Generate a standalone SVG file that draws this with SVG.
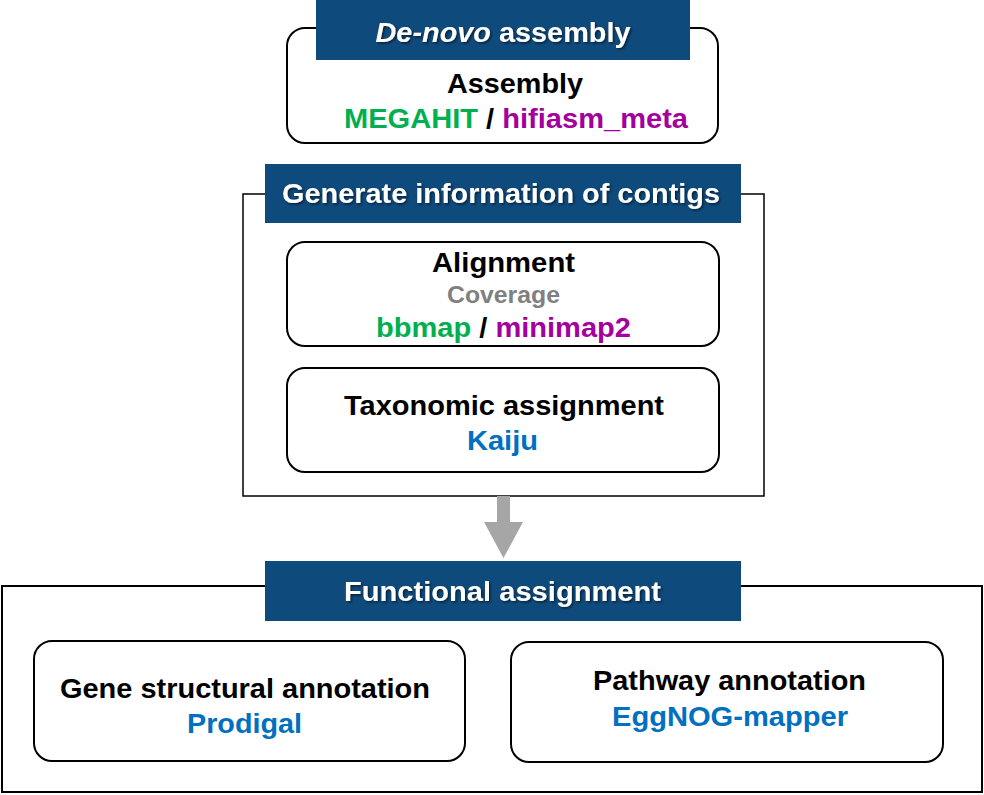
<svg xmlns="http://www.w3.org/2000/svg" width="984" height="795" viewBox="0 0 984 795">
<defs>
<filter id="shadow" x="-10%" y="-30%" width="120%" height="160%">
<feDropShadow dx="1.5" dy="1.5" stdDeviation="0.8" flood-color="#000" flood-opacity="0.55"/>
</filter>
</defs>
<style>
text{font-family:"Liberation Sans",Arial,sans-serif;font-weight:bold;font-size:28px;text-anchor:middle}
.hdr{fill:#0F4A7C}
.htxt{fill:#fff;filter:url(#shadow)}
.box{fill:#fff;stroke:#000;stroke-width:2}
.frame{fill:#fff;stroke:#000;stroke-width:1.5}
.blk{fill:#000}
.grn{fill:#00B050}
.pur{fill:#A3009E}
.blu{fill:#0070C0}
.gry{fill:#808080;font-size:24px}
.arrow{fill:#A6A6A6}
</style>
<rect width="984" height="795" fill="#fff"/>

<g id="denovo">
<rect class="box" x="287" y="28" width="431" height="115" rx="18"/>
<rect class="hdr" x="316" y="0" width="374" height="60"/>
<text class="htxt" x="503" y="42" textLength="255" lengthAdjust="spacingAndGlyphs"><tspan font-style="italic">De-novo</tspan> assembly</text>
<text class="blk" x="515" y="93" textLength="136" lengthAdjust="spacingAndGlyphs">Assembly</text>
<text x="516" y="128" textLength="344" lengthAdjust="spacingAndGlyphs"><tspan class="grn">MEGAHIT</tspan><tspan class="blk"> / </tspan><tspan class="pur">hifiasm_meta</tspan></text>
</g>

<g id="contigs">
<rect class="frame" x="243" y="194" width="521" height="302"/>
<rect class="hdr" x="265" y="164" width="476" height="59"/>
<text class="htxt" x="501" y="203" textLength="438" lengthAdjust="spacingAndGlyphs">Generate information of contigs</text>
</g>

<g id="alignment">
<rect class="box" x="287" y="242" width="432" height="104" rx="18"/>
<text class="blk" x="503.5" y="272" textLength="143" lengthAdjust="spacingAndGlyphs">Alignment</text>
<text class="gry" x="503.5" y="303" textLength="113" lengthAdjust="spacingAndGlyphs">Coverage</text>
<text x="503.5" y="337" textLength="255" lengthAdjust="spacingAndGlyphs"><tspan class="grn">bbmap</tspan><tspan class="blk"> / </tspan><tspan class="pur">minimap2</tspan></text>
</g>

<g id="taxonomy">
<rect class="box" x="287" y="368" width="432" height="104" rx="18"/>
<text class="blk" x="504" y="415" textLength="320" lengthAdjust="spacingAndGlyphs">Taxonomic assignment</text>
<text class="blu" x="502.5" y="450" textLength="71" lengthAdjust="spacingAndGlyphs">Kaiju</text>
</g>

<g id="connectors">
<polygon class="arrow" points="497,496 510,496 510,522 523,522 503.5,558 484,522 497,522"/>
</g>

<g id="functional">
<rect class="box" x="2" y="586" width="980" height="206"/>
<rect class="hdr" x="265" y="561" width="476" height="60"/>
<text class="htxt" x="502.5" y="601" textLength="317" lengthAdjust="spacingAndGlyphs">Functional assignment</text>
</g>

<g id="gene">
<rect class="box" x="34" y="641" width="431" height="120" rx="18"/>
<text class="blk" x="245" y="698" textLength="370" lengthAdjust="spacingAndGlyphs">Gene structural annotation</text>
<text class="blu" x="244.5" y="733" textLength="115" lengthAdjust="spacingAndGlyphs">Prodigal</text>
</g>

<g id="pathway">
<rect class="box" x="511" y="642" width="432" height="120" rx="18"/>
<text class="blk" x="729.5" y="690" textLength="273" lengthAdjust="spacingAndGlyphs">Pathway annotation</text>
<text class="blu" x="730" y="726" textLength="236" lengthAdjust="spacingAndGlyphs">EggNOG-mapper</text>
</g>
</svg>
